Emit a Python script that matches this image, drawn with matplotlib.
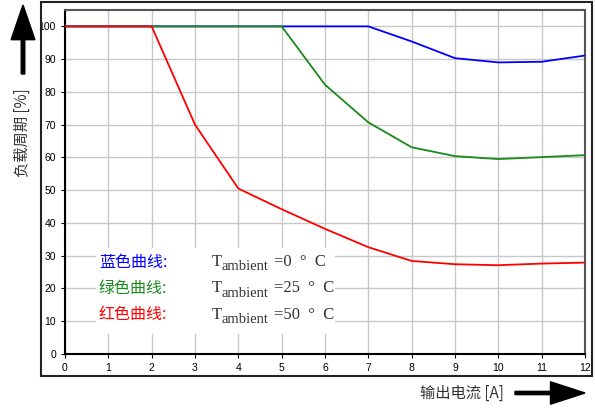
import matplotlib.pyplot as plt
from matplotlib.patches import Rectangle, FancyArrow

plt.rcParams['font.family'] = ['Liberation Sans', 'Noto Sans CJK SC', 'DejaVu Sans']

current = [0, 1, 2, 3, 4, 5, 6, 7, 8, 9, 10, 11, 12]
blue = [100, 100, 100, 100, 100, 100, 100, 100, 95.4, 90.3, 89.0, 89.2, 91.1]
green = [100, 100, 100, 100, 100, 100, 82.2, 70.7, 63.1, 60.4, 59.5, 60.1, 60.7]
red = [100, 100, 100, 70.0, 50.5, 44.2, 38.2, 32.6, 28.4, 27.4, 27.1, 27.6, 27.9]

labels = ["蓝色曲线:", "绿色曲线:", "红色曲线:"]
temps = ["0", "25", "50"]
colors = ["#0000ff", "#1a8a1a", "#ff0000"]

fig = plt.figure(figsize=(5.95, 4.08), dpi=100)
fig.patches.append(Rectangle((41 / 595, 1 - 376 / 408), 551 / 595, 374 / 408,
                             transform=fig.transFigure, fill=False,
                             edgecolor='#222222', linewidth=1.5))
ax = fig.add_axes([65 / 595, 1 - 354 / 408, 520 / 595, 344 / 408])

ax.plot(current, blue, color=colors[0], lw=1.3, zorder=3)
ax.plot(current, green, color=colors[1], lw=1.3, zorder=3)
ax.plot(current, red, color=colors[2], lw=1.3, zorder=3)

ax.set_xlim(0, 12)
ax.set_ylim(0, 105)
ax.set_xticks(range(0, 13))
ax.set_yticks(range(0, 101, 10))
ax.grid(True, color='#c8c8c8', lw=1)
ax.set_axisbelow(True)
ax.tick_params(labelsize=7.5, length=3, direction='out', colors='black')
for s in ['left', 'bottom']:
    ax.spines[s].set_linewidth(1.5)
for s in ['top', 'right']:
    ax.spines[s].set_color('#555555')
    ax.spines[s].set_linewidth(1.5)

# white box behind the notes
ax.add_patch(Rectangle((0.72, 6), 5.5, 26.5, facecolor='white', edgecolor='none', zorder=2))
for i, (lab, t, c) in enumerate(zip(labels, temps, colors)):
    y = 28 - i * 8
    ax.text(0.78, y, lab, color=c, fontsize=11.5, family=['Noto Sans CJK SC'],
            va='center', zorder=4)
    ax.text(3.39, y, "T", color='#333333', fontsize=12,
            family=['Liberation Serif'], va='center', zorder=4)
    ax.text(3.62, y - 1.4, "ambient", color='#333333', fontsize=10.5,
            family=['Liberation Serif'], va='center', zorder=4)
    ax.text(4.82, y, "=" + t + "  °  C", color='#333333', fontsize=12,
            family=['Liberation Serif'], va='center', zorder=4)

fig.text(22 / 595, 1 - 133 / 408, "负载周期 [%]", rotation=90, fontsize=11,
         family=['Noto Sans CJK SC'], ha='center', va='center', color='#333333')
fig.text(462 / 595, 1 - 393 / 408, "输出电流 [A]", fontsize=11,
         family=['Noto Sans CJK SC'], ha='center', va='center', color='#333333')

# arrows
fig.patches.append(FancyArrow(23 / 595, 1 - 74 / 408, 0, 69 / 408, width=0.006,
                              head_width=0.04, head_length=0.085, length_includes_head=True,
                              color='black', transform=fig.transFigure))
fig.patches.append(FancyArrow(515 / 595, 1 - 393 / 408, 70 / 595, 0, width=0.008,
                              head_width=0.055, head_length=0.058, length_includes_head=True,
                              color='black', transform=fig.transFigure))

fig.savefig('out.png', dpi=100)
